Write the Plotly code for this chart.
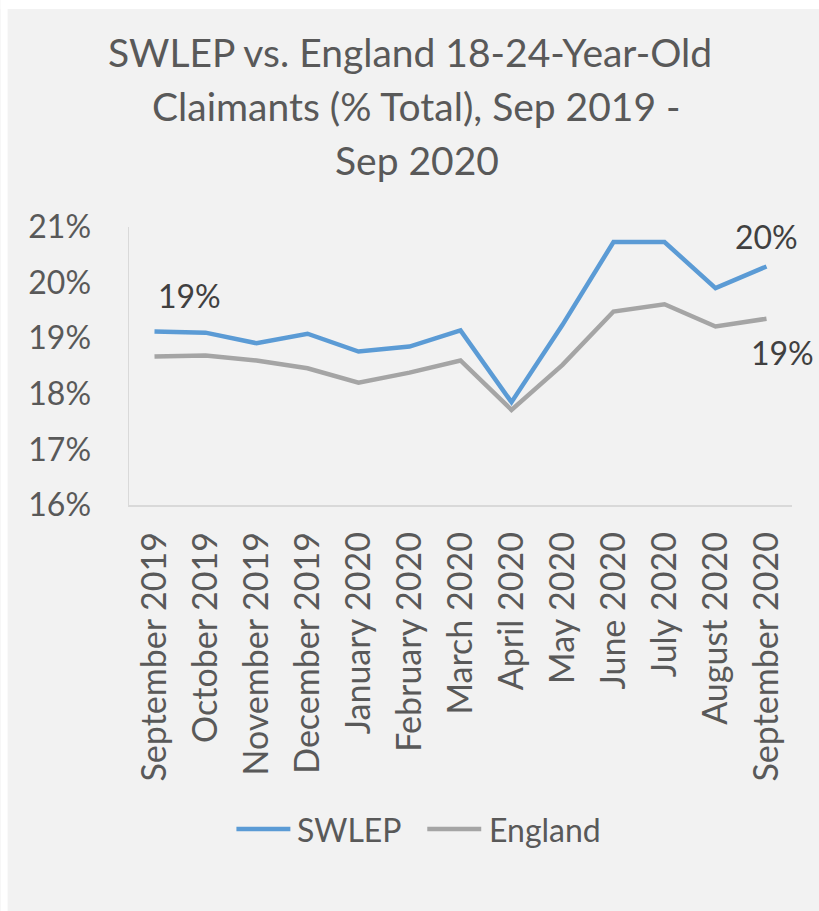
import plotly.graph_objects as go

months = ["September 2019", "October 2019", "November 2019", "December 2019",
          "January 2020", "February 2020", "March 2020", "April 2020",
          "May 2020", "June 2020", "July 2020", "August 2020", "September 2020"]
swlep = [19.12, 19.10, 18.91, 19.08, 18.76, 18.85, 19.14, 17.85,
         19.24, 20.73, 20.73, 19.90, 20.29]
england = [18.67, 18.69, 18.60, 18.46, 18.20, 18.38, 18.60, 17.71,
           18.52, 19.48, 19.61, 19.21, 19.35]
y_ticks = [16, 17, 18, 19, 20, 21]
y_tick_text = ["16%", "17%", "18%", "19%", "20%", "21%"]
title_lines = ["SWLEP vs. England 18-24-Year-Old", "Claimants (% Total), Sep 2019 -", "Sep 2020"]
series_names = ["SWLEP", "England"]
series_colors = ["#5B9BD5", "#A5A5A5"]

W, H = 819, 911
L, R, T, B = 128.5, 792, 227, 505


def px_x(px):
    return (px - L) / (R - L)


def px_y(py):
    return (B - py) / (B - T)


FONT = "Lato, 'Open Sans', sans-serif"

fig = go.Figure()
for name, vals, col in zip(series_names, [swlep, england], series_colors):
    fig.add_trace(go.Scatter(x=months, y=vals, name=name, mode="lines",
                             line=dict(color=col, width=4.5), showlegend=False))

annotations = []
for text, cx, cy in zip(title_lines, [410, 416, 417], [52, 106, 160]):
    annotations.append(dict(text=text, xref="paper", yref="paper", x=px_x(cx), y=px_y(cy),
                            xanchor="center", yanchor="middle", showarrow=False,
                            font=dict(family=FONT, size=39, color="#595959")))

lab_font = dict(family=FONT, size=32, color="#404040")
annotations.append(dict(text="19%", x=months[0], y=swlep[0], xref="x", yref="y",
                        showarrow=False, xshift=35, yshift=36, font=lab_font))
annotations.append(dict(text="20%", x=months[-1], y=swlep[-1], xref="x", yref="y",
                        showarrow=False, xshift=0, yshift=30, font=lab_font))
annotations.append(dict(text="19%", x=months[-1], y=england[-1], xref="x", yref="y",
                        showarrow=False, xshift=16, yshift=-34, font=lab_font))

# white page border (top/left) around the grey chart panel
shapes = [
    dict(type="rect", xref="paper", yref="paper", x0=px_x(0), x1=px_x(7),
         y0=px_y(H), y1=px_y(0), fillcolor="white", line=dict(width=0), layer="below"),
    dict(type="rect", xref="paper", yref="paper", x0=px_x(0), x1=px_x(W),
         y0=px_y(9), y1=px_y(0), fillcolor="white", line=dict(width=0), layer="below"),
]

# manual legend
leg_y = 829
for name, col, x0, x1, tx in zip(series_names, series_colors, [236, 427], [290, 481], [295, 487]):
    shapes.append(dict(type="line", xref="paper", yref="paper", x0=px_x(x0), x1=px_x(x1),
                       y0=px_y(leg_y), y1=px_y(leg_y), line=dict(color=col, width=4.5)))
    annotations.append(dict(text=name, xref="paper", yref="paper", x=px_x(tx), y=px_y(leg_y),
                            xanchor="left", yanchor="middle", showarrow=False,
                            font=dict(family=FONT, size=32, color="#595959")))

fig.update_layout(
    width=W, height=H,
    margin=dict(l=L, r=W - R, t=T, b=H - B, autoexpand=False),
    paper_bgcolor="#F2F2F2", plot_bgcolor="#F2F2F2",
    showlegend=False,
    annotations=annotations,
    shapes=shapes,
    xaxis=dict(type="category", range=[-0.5, len(months) - 0.5], showgrid=False,
               showline=True, linecolor="#D9D9D9", linewidth=1.5,
               tickangle=-90, ticks="", tickfont=dict(family=FONT, size=34, color="#595959"),
               ticklabelstandoff=12, zeroline=False, fixedrange=True),
    yaxis=dict(range=[16, 21], tickvals=y_ticks, ticktext=y_tick_text, showgrid=False,
               showline=True, linecolor="#D9D9D9", linewidth=1.5, ticks="",
               tickfont=dict(family=FONT, size=32, color="#595959"),
               ticklabelstandoff=30, zeroline=False, fixedrange=True),
)

fig.write_html("out.html", config={"displayModeBar": False, "staticPlot": True},
               post_script="document.body.style.margin='0';document.body.style.overflow='hidden';")
